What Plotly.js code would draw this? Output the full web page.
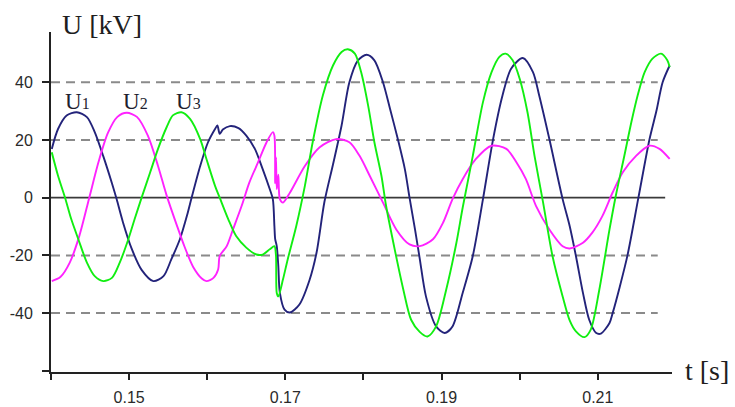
<!DOCTYPE html>
<html>
<head>
<meta charset="utf-8">
<script src="https://cdn.plot.ly/plotly-3.0.1.min.js"></script>
<style>
  html, body { margin: 0; padding: 0; background: #ffffff; }
  #chart { width: 735px; height: 407px; }
</style>
</head>
<body>
<div id="chart"></div>
<script>
// Phase voltages U1, U2, U3 [kV] over time t [s], before and after the disturbance near 0.169 s
const t1 = [
  0.1401,0.1409,0.1420,0.1433,0.1446,0.1456,0.1467,0.1478,0.1484,0.1492,
  0.1503,0.1516,0.1531,0.1544,0.1554,0.1565,0.1574,0.1580,0.1591,0.1601,
  0.1610,0.1613,0.1616,0.1620,0.1629,0.1640,0.1650,0.1661,0.1671,0.1680,
  0.1684,0.1686,0.1687,0.1689,0.1691,0.1693,0.1699,0.1706,0.1718,0.1731,
  0.1740,0.1750,0.1761,0.1772,0.1782,0.1793,0.1804,0.1814,0.1825,0.1834,
  0.1844,0.1853,0.1859,0.1866,0.1872,0.1880,0.1893,0.1904,0.1914,0.1927,
  0.1940,0.1953,0.1966,0.1978,0.1989,0.2004,0.2017,0.2025,0.2038,0.2055,
  0.2064,0.2072,0.2081,0.2089,0.2098,0.2104,0.2115,0.2119,0.2128,0.2138,
  0.2152,0.2166,0.2175,0.2183,0.2192];
const u1 = [
  16.9,23.8,28.5,29.6,27.9,22.7,14.3,5,-0.5,-8.4,
  -17.5,-25,-28.9,-27.2,-21.4,-14.4,-6.3,0,11,19.2,
  23.8,25,22.1,23.6,24.8,24.1,21.5,16.9,9.9,3,
  -0.5,-9.8,-14.4,-16.8,-23.7,-33,-38.8,-39.8,-37,-28.5,
  -19,-1.5,11.5,25,40,47.6,49.5,47.6,40,30.8,
  20.3,9.9,0,-11,-21,-34.2,-44.6,-46.9,-44.6,-33,
  -20.2,-0.5,20.3,35.4,44.7,48.4,43.5,35.4,20.3,-0.5,
  -9.8,-20.2,-33,-42.3,-46.9,-47.1,-43.4,-40,-31,-20,
  0,20,30,40,45.8];

const t2 = [
  0.1401,0.1412,0.1424,0.1436,0.1449,0.1461,0.1473,0.1485,0.1497,0.1510,
  0.1524,0.1537,0.1548,0.1561,0.1571,0.1582,0.1593,0.1599,0.1608,
  0.1614,0.1616,0.1625,0.1633,0.1644,0.1654,0.1665,0.1676,0.1684,0.1686,
  0.1687,0.1688,0.1689,0.1691,0.1693,0.1697,0.1706,0.1725,0.1744,0.1765,
  0.1782,0.1795,0.1808,0.1825,0.1842,0.1859,0.1872,0.1889,0.1902,0.1914,
  0.1927,0.1944,0.1964,0.1983,0.1996,0.2008,0.2021,0.2038,0.2055,0.2064,
  0.2081,0.2093,0.2106,0.2119,0.2132,0.2149,0.2166,0.2179,0.2192];
const u2 = [
  -28.9,-27.5,-22.5,-13.5,0,12.5,22.5,28,29.4,28,
  21.5,11,0.8,-9.5,-17,-24,-28,-28.9,-27.8,
  -24.9,-20.2,-16.8,-11,-2.9,5.3,12.2,19.2,22.7,21.5,
  5,14,3,8,-0.5,-1.7,1.8,11,17.5,20.3,
  19.2,14.5,7.6,-1.7,-11,-16.2,-16.8,-14.4,-8.6,-0.5,
  6.4,13.4,18,16.9,12.2,6.4,-2.9,-11,-16.8,-17.6,
  -15.6,-12.1,-6.3,1.8,8.8,14.5,18,16.9,13.4];

const t3 = [
  0.1401,0.1409,0.1418,0.1426,0.1435,0.1446,0.1456,0.1467,0.1478,0.1488,
  0.1499,0.1507,0.1516,0.1527,0.1537,0.1548,0.1556,0.1567,0.1578,0.1591,
  0.1599,0.1610,0.1616,0.1627,0.1637,0.1650,0.1663,0.1671,0.1680,0.1686,
  0.1688,0.1689,0.1691,0.1697,0.1703,0.1714,0.1725,0.1735,0.1748,0.1761,
  0.1772,0.1780,0.1789,0.1797,0.1806,0.1814,0.1823,0.1829,0.1840,0.1851,
  0.1861,0.1872,0.1882,0.1893,0.1906,0.1919,0.1927,0.1940,0.1953,0.1964,
  0.1974,0.1982,0.1991,0.2000,0.2010,0.2019,0.2030,0.2042,0.2055,0.2064,
  0.2072,0.2083,0.2091,0.2102,0.2115,0.2123,0.2134,0.2143,0.2151,0.2160,
  0.2170,0.2181,0.2189,0.2192];
const u3 = [
  15.7,7.6,0,-7.5,-14.4,-22.5,-27.2,-28.9,-27.8,-22.5,
  -14.4,-7.5,0,8.8,16.9,24.4,28.5,29.6,27.3,20.3,
  13.4,4.1,0,-7.5,-13.3,-17.3,-19.7,-19.7,-17.9,-16.8,
  -20,-33,-34.2,-28.3,-21.4,-9.8,4.1,19.2,35.4,45.8,
  50.5,51.4,49.9,43.5,31.9,19.2,7.6,-2.9,-17.9,-31.8,
  -42.3,-46.5,-48.1,-44.6,-31.8,-15.6,-3.5,14.5,33.1,43.5,
  48.8,49.9,47.6,41.2,29.6,14.5,-1.7,-20.2,-34.2,-42.5,
  -46.3,-48.3,-45.7,-31.8,-11,0.6,14.5,26.2,35.4,43.5,
  48.2,49.9,47.6,45.3];

// Axis ticks and labels
const xTicks = [0.14, 0.15, 0.16, 0.17, 0.18, 0.19, 0.20, 0.21];
const xTickText = ['', '0.15', '', '0.17', '', '0.19', '', '0.21'];
const yTicks = [-60, -40, -20, 0, 20, 40];
const yTickText = ['', '-40', '-20', '0', '20', '40'];
const gridLevels = [-40, -20, 20, 40];

// Series names and where their labels sit
const seriesNames = ['U1', 'U2', 'U3'];
const labelT = [0.14339, 0.15088, 0.15766];
const labelU = 33.3;

const colors = ['#23237a', '#ff22ff', '#11ee11'];

function trace(t, u, color, name) {
  return {
    x: t, y: u, type: 'scatter', mode: 'lines', name: name,
    line: { color: color, width: 1.9, shape: 'spline', smoothing: 0.8 },
    hoverinfo: 'x+y+name'
  };
}

const data = [
  trace(t1, u1, colors[0], seriesNames[0]),
  trace(t2, u2, colors[1], seriesNames[1]),
  trace(t3, u3, colors[2], seriesNames[2])
];

const serif = '"Liberation Serif", "DejaVu Serif", serif';
const sans = '"Liberation Sans", Arial, sans-serif';

const shapes = gridLevels.map(v => ({
  type: 'line', xref: 'paper', yref: 'y', x0: 0, x1: 0.977, y0: v, y1: v,
  line: { color: '#8a8a8a', width: 2, dash: '9px,6px' }, layer: 'below'
}));
shapes.push({
  type: 'line', xref: 'paper', yref: 'y', x0: 0, x1: 0.989, y0: 0, y1: 0,
  line: { color: '#3a3a3a', width: 1.8 }, layer: 'below'
});

const annotations = seriesNames.map((n, i) => ({
  x: labelT[i], y: labelU, xref: 'x', yref: 'y',
  text: 'U<span style="font-size:16px">' + n.slice(1) + '</span>',
  showarrow: false, xanchor: 'center', yanchor: 'middle',
  font: { family: serif, size: 23, color: '#1e1e30' }
}));
annotations.push({
  x: 0.082, y: 1.0235, xref: 'paper', yref: 'paper', text: 'U [kV]',
  showarrow: false, xanchor: 'center', yanchor: 'middle',
  font: { family: serif, size: 28, color: '#1e1e1e' }
});
annotations.push({
  x: 1.056, y: 0.003, xref: 'paper', yref: 'paper', text: 't [s]',
  showarrow: false, xanchor: 'center', yanchor: 'middle',
  font: { family: serif, size: 28, color: '#1e1e1e' }
});

const layout = {
  width: 735, height: 407,
  margin: { l: 51, r: 63, t: 32, b: 35, pad: 0 },
  paper_bgcolor: '#ffffff', plot_bgcolor: '#ffffff',
  showlegend: false,
  xaxis: {
    range: [0.14, 0.2195], showgrid: false, zeroline: false,
    showline: true, linecolor: '#222222', linewidth: 2,
    tickmode: 'array', tickvals: xTicks, ticktext: xTickText,
    ticks: 'outside', ticklen: 6, tickwidth: 2, tickcolor: '#222222',
    ticklabelstandoff: 4,
    tickfont: { family: sans, size: 16, color: '#2a2a2a' }
  },
  yaxis: {
    range: [-60.4, 57.4], showgrid: false, zeroline: false,
    showline: true, linecolor: '#222222', linewidth: 2,
    tickmode: 'array', tickvals: yTicks, ticktext: yTickText,
    ticks: 'outside', ticklen: 7, tickwidth: 2, tickcolor: '#222222',
    ticklabelstandoff: 6,
    tickfont: { family: sans, size: 16, color: '#2a2a2a' }
  },
  shapes: shapes,
  annotations: annotations
};

Plotly.newPlot('chart', data, layout, { displayModeBar: false, staticPlot: true });
</script>
</body>
</html>
